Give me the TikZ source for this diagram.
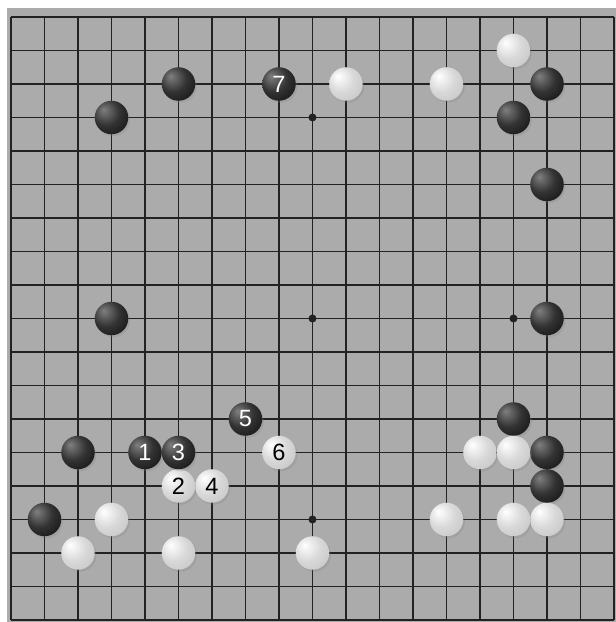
\documentclass[tikz,border=0pt]{standalone}
\usepackage{fontspec}
\setsansfont{Liberation Sans}
\usepackage{tikz}
\usetikzlibrary{shadows}
\definecolor{boardgray}{HTML}{ABABAB}
\definecolor{gridink}{HTML}{222222}
\pgfdeclareradialshading{blackball}{\pgfpoint{-12bp}{12bp}}{%
  color(0bp)=(black!50); color(8bp)=(black!62); color(20bp)=(black!80);
  color(40bp)=(black!93); color(66bp)=(black)}
\pgfdeclareradialshading{whiteball}{\pgfpoint{-12bp}{12bp}}{%
  color(0bp)=(white); color(8bp)=(black!6); color(20bp)=(black!15);
  color(35bp)=(black!21); color(50bp)=(black!34); color(66bp)=(black!55)}
\tikzset{
  gridrule/.style={draw=gridink, line width=1.6pt},
  hoshi/.style={circle, fill=gridink, inner sep=0pt, minimum size=2.4mm},
  stone/.style={circle, inner sep=0pt, minimum size=10mm,
    font=\sffamily\fontsize{20}{20}\selectfont,
    drop shadow={shadow xshift=0.5mm, shadow yshift=-0.6mm, opacity=0.25}},
  blackstone/.style={stone, shade, shading=blackball, text=white},
  whitestone/.style={stone, shade, shading=whiteball, text=black}
}

\begin{document}
\begin{tikzpicture}[x=1cm, y=-1cm]
  \fill[white] (-0.328,-0.507) rectangle (18.06,18.06);
  \useasboundingbox (-0.328,-0.507) rectangle (18.06,18.06);
  \fill[boardgray] (-0.12,-0.27) rectangle (18.2,18.2);

  % grid
  \foreach \i in {0,...,18} {
    \draw[gridrule] (\i,0) -- (\i,18);
    \draw[gridrule] (0,\i) -- (18,\i);
  }
  \foreach \c/\r [count=\k] in {3/3,9/3,15/3,3/9,9/9,15/9,3/15,9/15,15/15}
    \node[hoshi] (star\k) at (\c,\r) {};

  % stones already on the board
  \foreach \c/\r [count=\k] in {5/2,16/2,3/3,15/3,16/5,3/9,16/9,15/12,2/13,16/13,16/14,1/15}
    \node[blackstone] (b\k) at (\c,\r) {};
  \foreach \c/\r [count=\k] in {15/1,10/2,13/2,14/13,15/13,3/15,13/15,15/15,16/15,2/16,5/16,9/16}
    \node[whitestone] (w\k) at (\c,\r) {};

  % numbered moves
  \node[blackstone] (m1) at (4,13) {1};
  \node[whitestone] (m2) at (5,14) {2};
  \node[blackstone] (m3) at (5,13) {3};
  \node[whitestone] (m4) at (6,14) {4};
  \node[blackstone] (m5) at (7,12) {5};
  \node[whitestone] (m6) at (8,13) {6};
  \node[blackstone] (m7) at (8,2) {7};
\end{tikzpicture}
\end{document}
